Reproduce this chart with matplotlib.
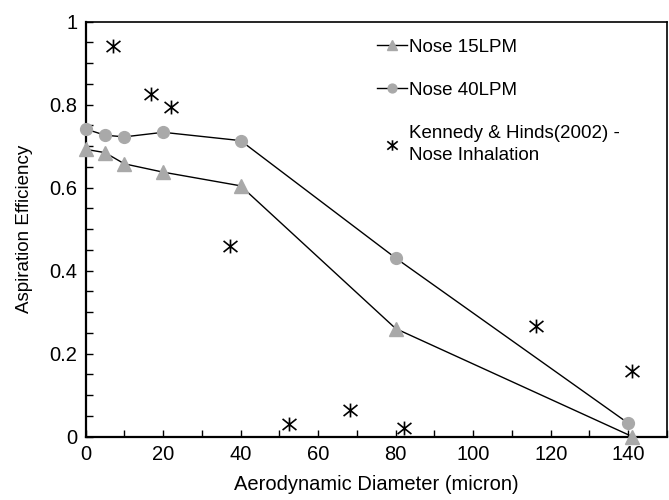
import matplotlib
matplotlib.use("Agg")
import matplotlib.pyplot as plt
from matplotlib.ticker import MultipleLocator
from matplotlib.path import Path

plt.rcParams["font.family"] = ["Liberation Sans", "DejaVu Sans"]

# data
diam = [0, 5, 10, 20, 40, 80, 141]
nose15 = [0.692, 0.684, 0.657, 0.637, 0.604, 0.260, 0.0]
diam40 = [0, 5, 10, 20, 40, 80, 140]
nose40 = [0.741, 0.726, 0.722, 0.733, 0.713, 0.430, 0.032]
kh_x = [7.0, 16.9, 22.1, 37.3, 52.4, 68.1, 82.2, 116.3, 141.0]
kh_y = [0.941, 0.826, 0.794, 0.458, 0.031, 0.064, 0.020, 0.267, 0.159]

# x with a vertical bar, like the reference symbol
star = Path([(0, -1), (0, 1), (-1, -0.8), (1, 0.8), (-1, 0.8), (1, -0.8)],
            [Path.MOVETO, Path.LINETO] * 3)

fig = plt.figure(figsize=(6.69, 5.0), dpi=100)
ax = fig.add_axes([0.128, 0.127, 0.869, 0.830])

gray = "#a9a9a9"
ax.plot(diam, nose15, "-", color="black", lw=1.0, marker="^", ms=9.5,
        mfc=gray, mec=gray, label="Nose 15LPM", clip_on=False, zorder=3)
ax.plot(diam40, nose40, "-", color="black", lw=1.0, marker="o", ms=8.5,
        mfc=gray, mec=gray, label="Nose 40LPM", clip_on=False, zorder=3)
ax.plot(kh_x, kh_y, ls="none", marker=star, ms=10, mec="black",
        mew=1.2, color="black",
        label="Kennedy & Hinds(2002) -\nNose Inhalation", zorder=3)

ax.set_xlim(0, 150)
ax.set_ylim(0, 1)
ax.xaxis.set_minor_locator(MultipleLocator(10))
ax.yaxis.set_minor_locator(MultipleLocator(0.05))
ax.set_xticks([0, 20, 40, 60, 80, 100, 120, 140])
ax.set_xticklabels(["0", "20", "40", "60", "80", "100", "120", "140"])
ax.set_yticks([0, 0.2, 0.4, 0.6, 0.8, 1.0])
ax.set_yticklabels(["0", "0.2", "0.4", "0.6", "0.8", "1"])
ax.tick_params(which="both", direction="in", labelsize=14.5, width=1.0)
ax.tick_params(which="major", length=5, pad=6)
ax.tick_params(which="minor", length=5)
ax.tick_params(axis="x", which="both", top=False)
ax.tick_params(axis="y", which="both", right=False)
for s in ax.spines.values():
    s.set_linewidth(1.2)
ax.spines["bottom"].set_linewidth(1.6)
ax.spines["left"].set_linewidth(1.6)

ax.set_xlabel("Aerodynamic Diameter (micron)", fontsize=14.5, labelpad=8)
ax.set_ylabel("Aspiration Efficiency", fontsize=13.5, labelpad=12)

leg = ax.legend(loc="upper left", bbox_to_anchor=(0.473, 1.0), frameon=False,
                fontsize=13.5, handlelength=1.6, handletextpad=0.1,
                labelspacing=1.4, markerscale=0.75)
for t in leg.get_texts():
    t.set_linespacing(1.4)

fig.savefig("out.png", dpi=100)
